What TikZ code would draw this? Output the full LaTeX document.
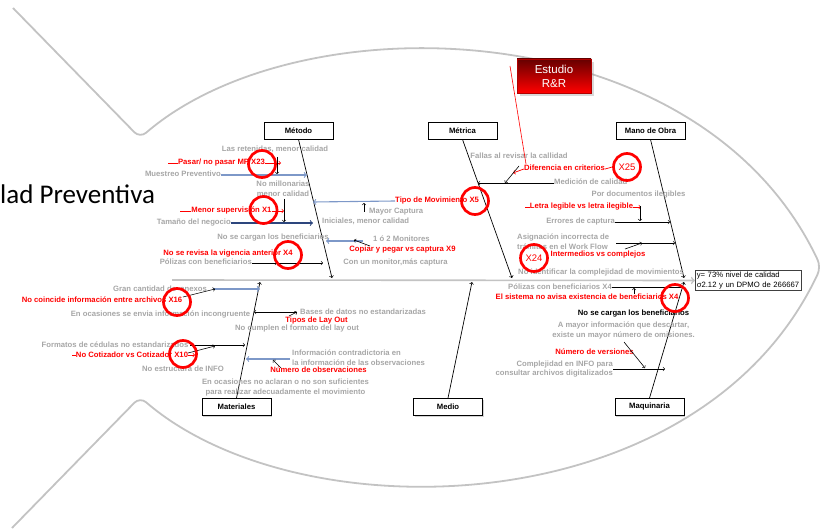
\documentclass[tikz,border=0pt]{standalone}
\usepackage{fontspec}
\setmainfont{Liberation Sans}
\newfontfamily\carlito{Carlito}
\usetikzlibrary{shadows}

\definecolor{gristxt}{RGB}{166,166,166}
\definecolor{grislinea}{RGB}{195,195,195}
\definecolor{azulclaro}{RGB}{125,152,200}
\definecolor{azuloscuro}{RGB}{45,70,125}

\tikzset{
  caja/.style={draw=black, line width=0.9pt, fill=white, minimum width=69pt, minimum height=17pt, inner sep=0pt,
    font=\fontsize{7.7}{9}\selectfont\bfseries, drop shadow={shadow xshift=1pt, shadow yshift=-1pt, opacity=.35}},
  gris/.style={text=gristxt, inner sep=0pt, text height=5.6pt, text depth=1.6pt, font=\fontsize{7.7}{9}\selectfont\bfseries},
  rojo/.style={gris, text=red},
  bloque/.style={text=gristxt, inner sep=0pt, align=center, font=\fontsize{7.7}{9.6}\selectfont\bfseries},
  aro/.style={circle, draw=red, line width=2.7pt, minimum size=27pt, inner sep=0pt, text=red, font=\fontsize{9.5}{10}\selectfont},
  hueso/.style={draw=black, line width=0.7pt, ->},
  flecha/.style={draw=black, line width=0.6pt, ->},
  raya/.style={draw=red, line width=0.7pt},
  azul/.style={draw=azulclaro, line width=1.1pt, ->},
}

\begin{document}
\begin{tikzpicture}[x=1pt, y=-1pt]
	\useasboundingbox (0,0) rectangle (824,529);

	% contorno del pescado
	\draw[draw=grislinea, line width=1.8pt, rounded corners=8pt] (13,8) -- (140,138)
		.. controls (300,0) and (700,10) .. (821,267)
		.. controls (700,525) and (300,535) .. (140,397) -- (12,528);

	\node[anchor=base west, inner sep=0pt, font=\carlito\fontsize{27}{30}\selectfont] (titulo) at (0,204) {lad Preventiva};

	% categorias
	\node[caja] (metodo) at (298.5,130.5) {Método};
	\node[caja] (metrica) at (462.5,130.5) {Métrica};
	\node[caja] (mano) at (650.5,130.5) {Mano de Obra};
	\node[caja] (materiales) at (236.5,407) {Materiales};
	\node[caja] (medio) at (448,407) {Medio};
	\node[caja] (maquinaria) at (649.5,407) {Maquinaria};

	\node[draw=black!75, line width=0.6pt, fill=white, anchor=west, text width=103pt, inner xsep=1.5pt, inner ysep=1.5pt,
		align=left, font=\fontsize{7.7}{10}\selectfont] (efecto) at (695,280.5) {y= 73\% nivel de calidad\\σ2.12 y un DPMO de 266667};

	% espina y huesos
	\coordinate (cola) at (172,280);
	\draw[draw=grislinea, line width=1.6pt, ->] (cola) -- (efecto.west);
	\coordinate (e1) at (332,278);
	\coordinate (e2) at (512,278);
	\coordinate (e3) at (684,278);
	\coordinate (e4) at (260,282);
	\coordinate (e5) at (472,282);
	\coordinate (e6) at (684,282);
	\draw[hueso] (metodo.south) -- (e1);
	\draw[hueso] (metrica.south) -- (e2);
	\draw[hueso] (mano.south) -- (e3);
	\draw[hueso] (materiales.north) -- (e4);
	\draw[hueso] (medio.north) -- (e5);
	\draw[hueso] (maquinaria.north) -- (e6);

	\node[fill=red, top color=red!40!black, middle color=red!92!black, bottom color=red, draw=red!70!black, line width=0.5pt,
		minimum width=74pt, minimum height=34pt, inner sep=0pt, text=white, align=center,
		font=\fontsize{11.5}{14}\selectfont, drop shadow={opacity=.3}] (estudio) at (554,76) {Estudio\\R\&R};

	% Metodo
	\node[gris] (retenidas) at (275,150) {Las retenidas, menor calidad};
	\node[rojo] (pasar) at (221.5,163) {Pasar/ no pasar MP X23};
	\coordinate (pasar0) at (168,163);
	\coordinate (pasar1) at (281,163);
	\draw[raya] (pasar0) -- (pasar.west);
	\draw[raya,->] (pasar.east) -- (pasar1);
	\coordinate (mue0) at (277,157);
	\coordinate (mue1) at (277,174);
	\draw[flecha] (mue0) -- (mue1);
	\node[gris, anchor=east] (muestreo) at (221,175) {Muestreo Preventivo};
	\coordinate (mue2) at (307,175);
	\draw[azul] (muestreo.east) -- (mue2);
	\node[bloque] (millonarias) at (283,189) {No millonarias\\menor calidad};

	\node[rojo, anchor=west] (tipomov) at (395,201) {Tipo de Movimiento X5};
	\coordinate (tipo1) at (313,202);
	\draw[azul] (tipomov.west) -- (tipo1);
	\coordinate (may0) at (364,212);
	\coordinate (may1) at (364,203);
	\draw[flecha] (may0) -- (may1);
	\node[gris, anchor=west] (mayor) at (369,212) {Mayor Captura};
	\node[gris, anchor=west] (iniciales) at (322,222) {Iniciales, menor calidad};

	\node[rojo] (menorsup) at (231.5,211) {Menor supervisión X1};
	\coordinate (sup0) at (180,211);
	\coordinate (sup1) at (284,211);
	\draw[raya] (sup0) -- (menorsup.west);
	\draw[raya,->] (menorsup.east) -- (sup1);
	\coordinate (tam0) at (284,199);
	\coordinate (tam1) at (284,222);
	\draw[flecha] (tam0) -- (tam1);
	\node[gris, anchor=east] (tamano) at (231,223) {Tamaño del negocio};
	\coordinate (tam2) at (313,223);
	\draw[azul, draw=azuloscuro] (tamano.east) -- (tam2);

	\node[gris] (nocargan) at (273,238) {No se cargan los beneficiarios};
	\coordinate (mon0) at (363,241);
	\coordinate (mon1) at (326,241);
	\draw[azul] (mon0) -- (mon1);
	\node[gris, anchor=west] (monitores) at (373,240) {1 ó 2 Monitores};
	\coordinate (mon2) at (370,246);
	\coordinate (mon3) at (354,240);
	\draw[flecha] (mon2) -- (mon3);
	\node[rojo] (copiar) at (402.5,250) {Copiar y pegar vs captura X9};
	\node[gris] (conmonitor) at (395.5,263) {Con un monitor,más captura};
	\node[rojo] (vigencia) at (228,254) {No se revisa la vigencia anterior X4};
	\node[gris, anchor=east] (polizas) at (252,263) {Pólizas con beneficiarios};
	\coordinate (pol1) at (277,263);
	\coordinate (pol2) at (323,263);
	\draw[flecha] (polizas.east) -- (pol1);
	\draw[flecha] (pol1) -- (pol2);

	% Metrica
	\node[gris] (fallas) at (519,157) {Fallas al revisar la callidad};
	\node[rojo] (diferencia) at (564.5,169) {Diferencia en criterios};
	\coordinate (dif1) at (513,173);
	\draw[raya,->] (diferencia.west) -- (dif1);
	\coordinate (rr0) at (510,66);
	\coordinate (rr1) at (526,164);
	\draw[raya, line width=0.6pt] (rr0) -- (rr1);
	\coordinate (med0) at (519,166);
	\coordinate (med1) at (505,183);
	\draw[flecha] (med0) -- (med1);
	\node[gris, anchor=west] (medicion) at (554,183) {Medición de calidad};
	\coordinate (med2) at (478,183);
	\draw[flecha] (medicion.west) -- (med2);

	% Mano de Obra
	\node[gris] (pordoc) at (638.5,195) {Por documentos ilegibles};
	\node[rojo] (letra) at (581.5,207) {Letra legible vs letra ilegible};
	\coordinate (let0) at (525,207);
	\coordinate (let1) at (641,207);
	\draw[raya] (let0) -- (letra.west);
	\draw[raya,->] (letra.east) -- (let1);
	\coordinate (err0) at (640,206);
	\coordinate (err1) at (640,221);
	\draw[flecha] (err0) -- (err1);
	\node[gris, anchor=east] (errores) at (615,222) {Errores de captura};
	\coordinate (err2) at (670,222);
	\draw[flecha] (errores.east) -- (err2);
	\node[bloque, align=left, anchor=west] (asignacion) at (517,242) {Asignación incorrecta de\\trámites en el Work Flow};
	\coordinate (asg0) at (616,243);
	\coordinate (asg1) at (675,243);
	\draw[flecha] (asg0) -- (asg1);
	\coordinate (asg2) at (625,249);
	\coordinate (asg3) at (642,243);
	\draw[flecha] (asg2) -- (asg3);
	\node[rojo] (intermedios) at (598,255) {Intermedios vs complejos};
	\node[gris] (noident) at (601,272) {No identificar la complejidad de movimientos};

	% Maquinaria
	\node[gris, anchor=east] (polizasx) at (612,287) {Pólizas con beneficiarios X4};
	\coordinate (pox1) at (682,287);
	\draw[draw=black, line width=0.6pt] (polizasx.east) -- (pox1);
	\coordinate (pox2) at (634,294);
	\coordinate (pox3) at (634,288);
	\draw[flecha] (pox2) -- (pox3);
	\node[rojo] (sistema) at (587,297) {El sistema no avisa existencia de beneficiarios X4};
	\node[gris, text=black] (nocargan2) at (633.5,313) {No se cargan los beneficiarios};
	\node[bloque] (amayor) at (623.5,330.5) {A mayor información que descartar,\\existe un mayor número de omisiones.};
	\node[rojo] (nversiones) at (594.5,352) {Número de versiones};
	\coordinate (ver0) at (624,342);
	\coordinate (ver1) at (645,368);
	\draw[flecha] (ver0) -- (ver1);
	\node[bloque, align=right, anchor=east] (complejidad) at (613,369) {Complejidad en INFO para\\consultar archivos digitalizados};
	\coordinate (cmp1) at (665,369);
	\draw[flecha] (complejidad.east) -- (cmp1);

	% Materiales
	\node[gris] (gran) at (160,289) {Gran cantidad de\ \ anexos};
	\coordinate (gra1) at (213,289);
	\coordinate (gra2) at (260,289);
	\draw[azul] (gra1) -- (gra2);
	\coordinate (gra3) at (183,297);
	\coordinate (gra4) at (215,289);
	\draw[flecha] (gra3) -- (gra4);
	\node[rojo] (nocoincide) at (102,300) {No coincide información entre archivos X16};
	\node[gris] (envia) at (160.5,314) {En ocasiones se envia información incongruente};
	\coordinate (bas0) at (297,312);
	\coordinate (bas1) at (254,312);
	\draw[flecha] (bas0) -- (bas1);
	\coordinate (bas2) at (289,316);
	\draw[flecha] (bas2) -- (bas0);
	\node[gris, anchor=west] (bases) at (300,312) {Bases de datos no estandarizadas};
	\node[rojo] (tipos) at (316.5,320) {Tipos de Lay Out};
	\node[gris] (cumplen) at (297,328) {No cumplen el formato del lay out};
	\node[gris] (formatos) at (115,345) {Formatos de cédulas no estandarizados};
	\coordinate (for1) at (190,345);
	\coordinate (for2) at (245,345);
	\draw[flecha] (for1) -- (for2);
	\coordinate (for3) at (188,353);
	\coordinate (for4) at (215,346);
	\draw[flecha] (for3) -- (for4);
	\node[rojo] (cotizador) at (132,355) {No Cotizador vs Cotizador X10};
	\coordinate (cot0) at (72,355);
	\coordinate (cot1) at (195,355);
	\draw[raya] (cot0) -- (cotizador.west);
	\draw[raya,->] (cotizador.east) -- (cot1);
	\node[gris] (estructura) at (183,369) {No estructura de INFO};
	\coordinate (inf0) at (290,359);
	\coordinate (inf1) at (246,359);
	\draw[azul] (inf0) -- (inf1);
	\coordinate (inf2) at (281,368);
	\coordinate (inf3) at (273,360);
	\draw[flecha] (inf2) -- (inf3);
	\node[bloque, align=left, anchor=west] (contradictoria) at (292,357.5) {Información contradictoria en\\la información de las observaciones};
	\node[rojo] (nobserv) at (318.5,370) {Número de observaciones};
	\node[bloque] (aclaran) at (285.5,387.5) {En ocasiones no aclaran o no son suficientes\\para realizar adecuadamente el movimiento};

	% circulos rojos
	\node[aro] (x23) at (262,164) {};
	\node[aro] (x1) at (263.5,210) {};
	\node[aro] (x4a) at (288,255) {};
	\node[aro] (x5) at (475,201) {};
	\node[aro] (x25) at (627,167) {X25};
	\node[aro] (x24) at (534,258) {X24};
	\node[aro] (x4b) at (675,298) {};
	\node[aro] (x16) at (177,302) {};
	\node[aro] (x10) at (183,354) {};
	\draw[raya] (diferencia.east) -- (x25.west);

\end{tikzpicture}
\end{document}
